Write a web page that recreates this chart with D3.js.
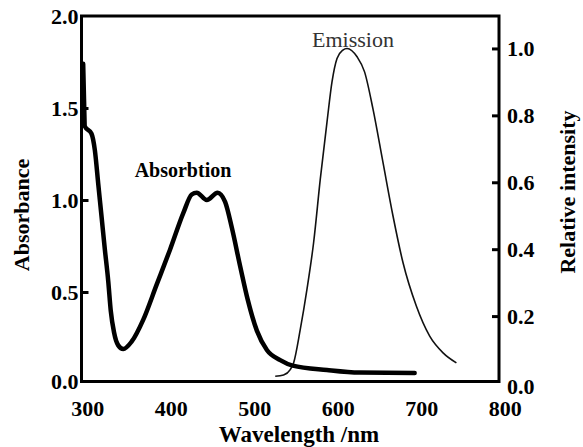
<!DOCTYPE html>
<html>
<head>
<meta charset="utf-8">
<script src="https://cdn.jsdelivr.net/npm/d3@7"></script>
<style>
  html, body { margin: 0; padding: 0; background: #fff; }
  svg text { font-family: "Liberation Serif", "Times New Roman", serif; }
</style>
</head>
<body>
<svg id="chart" width="583" height="447"></svg>
<script>
// tick values
const xTicks = [300, 400, 500, 600, 700, 800];
const absTicks = [0, 0.5, 1.0, 1.5, 2.0];
const relTicks = [0, 0.2, 0.4, 0.6, 0.8, 1.0];

// absorption spectrum (left axis)
const absWavelength = [295, 296, 297, 305, 309, 313, 317, 321, 325, 328, 332, 337, 343, 353, 367, 383, 399, 415, 425, 431, 443, 456, 465, 473, 483, 492, 503, 515, 531, 546, 587, 626, 692];
const absValues =     [1.74, 1.55, 1.40, 1.36, 1.27, 1.09, 0.91, 0.73, 0.56, 0.40, 0.28, 0.21, 0.19, 0.23, 0.35, 0.54, 0.73, 0.93, 1.03, 1.04, 1.00, 1.04, 0.99, 0.85, 0.64, 0.46, 0.29, 0.185, 0.13, 0.10, 0.076, 0.062, 0.06];

// emission spectrum (right axis)
const emWavelength = [525, 535, 543, 547, 555, 563, 571, 579, 587, 593, 599, 606, 611, 623, 632, 642, 654, 666, 678, 694, 710, 726, 742];
const emValues =     [0.02, 0.024, 0.04, 0.06, 0.16, 0.28, 0.42, 0.61, 0.78, 0.90, 0.97, 0.995, 1.0, 0.975, 0.93, 0.82, 0.66, 0.50, 0.36, 0.23, 0.14, 0.09, 0.06];

const svg = d3.select('#chart');
const plotLeft = 81.5, plotRight = 499, plotTop = 16, plotBottom = 381.5;

const x = d3.scaleLinear().domain([293, 793]).range([plotLeft, plotRight]);
const yAbs = d3.scaleLinear().domain([0, 2]).range([384, plotTop]);
const yRel = d3.scaleLinear().domain([0, 1.1]).range([383, 15]);

// frame
svg.append('rect')
  .attr('x', plotLeft).attr('y', plotTop)
  .attr('width', plotRight - plotLeft).attr('height', plotBottom - plotTop)
  .attr('fill', 'none').attr('stroke', '#000').attr('stroke-width', 3);

const fmt = d3.format('.1f');

// left axis, ticks pointing inward
const gL = svg.append('g').attr('transform', `translate(${plotLeft},0)`)
  .call(d3.axisLeft(yAbs).tickValues(absTicks).tickSize(-7).tickPadding(3).tickFormat(fmt));
gL.select('.domain').remove();
gL.selectAll('.tick').filter(d => d === 0 || d === 2).select('line').remove();
gL.selectAll('.tick').filter(d => d === 0).attr('transform', `translate(0,${plotBottom})`);

// right axis
const gR = svg.append('g').attr('transform', `translate(${plotRight},0)`)
  .call(d3.axisRight(yRel).tickValues(relTicks).tickSize(-7).tickPadding(8).tickFormat(fmt));
gR.select('.domain').remove();
gR.selectAll('.tick').filter(d => d === 0).select('line').remove();
gR.selectAll('.tick').filter(d => d === 0).select('text').attr('dy', '0.48em');

// bottom axis, labels only
const gB = svg.append('g').attr('transform', `translate(0,${plotBottom})`)
  .call(d3.axisBottom(x).tickValues(xTicks).tickSize(0).tickPadding(19).tickFormat(d3.format('d')));
gB.select('.domain').remove();

svg.selectAll('.tick line').attr('stroke', '#000').attr('stroke-width', 3);
svg.selectAll('.tick text')
  .attr('fill', '#000')
  .style('font-size', '22px')
  .style('font-weight', 'bold');

// curves
const absLine = d3.line()
  .x((d, i) => x(absWavelength[i]))
  .y(d => yAbs(d))
  .curve(d3.curveMonotoneX);

const emLine = d3.line()
  .x((d, i) => x(emWavelength[i]))
  .y(d => yRel(d))
  .curve(d3.curveMonotoneX);

svg.append('path')
  .attr('d', emLine(emValues))
  .attr('fill', 'none').attr('stroke', '#111').attr('stroke-width', 1.6);

svg.append('path')
  .attr('d', absLine(absValues))
  .attr('fill', 'none').attr('stroke', '#000').attr('stroke-width', 4.5)
  .attr('stroke-linejoin', 'round').attr('stroke-linecap', 'round');

// labels
svg.append('text')
  .attr('x', 183).attr('y', 177)
  .attr('text-anchor', 'middle')
  .style('font-size', '20px').style('font-weight', 'bold')
  .text('Absorbtion');

svg.append('text')
  .attr('x', 353).attr('y', 47)
  .attr('text-anchor', 'middle')
  .attr('fill', '#333')
  .style('font-size', '22px')
  .text('Emission');

svg.append('text')
  .attr('x', 299).attr('y', 442)
  .attr('text-anchor', 'middle')
  .style('font-size', '23px').style('font-weight', 'bold')
  .text('Wavelength /nm');

svg.append('text')
  .attr('transform', 'translate(29,215) rotate(-90)')
  .attr('text-anchor', 'middle')
  .style('font-size', '22px').style('font-weight', 'bold')
  .text('Absorbance');

svg.append('text')
  .attr('transform', 'translate(575,192) rotate(-90)')
  .attr('text-anchor', 'middle')
  .style('font-size', '22px').style('font-weight', 'bold')
  .text('Relative intensity');
</script>
</body>
</html>
